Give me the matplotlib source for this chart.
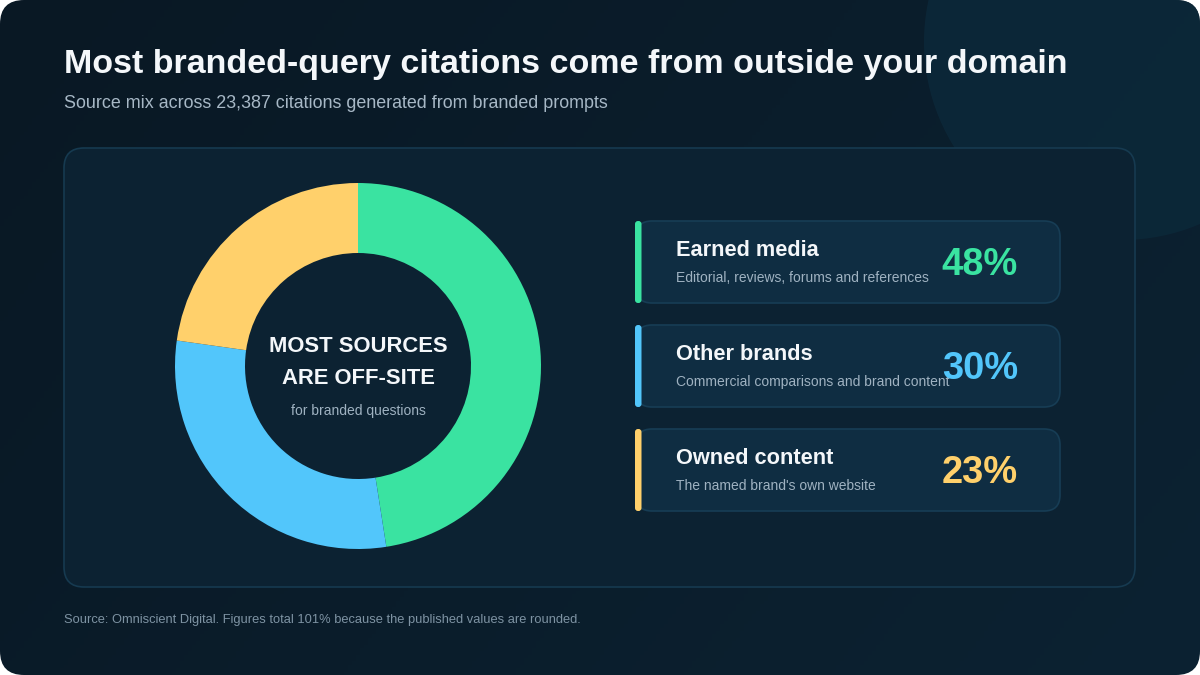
import matplotlib
matplotlib.use("Agg")
import matplotlib.pyplot as plt
import numpy as np
from matplotlib.patches import FancyBboxPatch, Circle

plt.rcParams['font.family'] = ['Liberation Sans', 'DejaVu Sans']

# ---- data ----
categories = ["Earned media", "Other brands", "Owned content"]
descriptions = ["Editorial, reviews, forums and references",
                "Commercial comparisons and brand content",
                "The named brand's own website"]
values = [48, 30, 23]
colors = ["#3AE3A1", "#52C6FB", "#FFD06B"]

title = "Most branded-query citations come from outside your domain"
subtitle = "Source mix across 23,387 citations generated from branded prompts"
footer = "Source: Omniscient Digital. Figures total 101% because the published values are rounded."
center_lines = ["MOST SOURCES", "ARE OFF-SITE"]
center_sub = "for branded questions"

W, H = 1200, 675
fig = plt.figure(figsize=(W / 100, H / 100), dpi=100)
fig.patch.set_facecolor("white")

ax = fig.add_axes([0, 0, 1, 1])
ax.set_xlim(0, W)
ax.set_ylim(H, 0)
ax.axis("off")

def px(v):  # pixel to points
    return v * 0.72

# background rounded card with gradient
bg = FancyBboxPatch((0, 0), W, H, boxstyle="round,pad=0,rounding_size=24",
                    facecolor="none", edgecolor="none", zorder=0)
ax.add_patch(bg)
yy, xx = np.mgrid[0:1:200j, 0:1:300j]
t = (xx * 0.7 + yy * 0.3)
c0 = np.array([0x09, 0x18, 0x24]) / 255
c1 = np.array([0x0C, 0x22, 0x32]) / 255
img = c0[None, None, :] * (1 - t[..., None]) + c1[None, None, :] * t[..., None]
im = ax.imshow(img, extent=[0, W, H, 0], aspect="auto", zorder=0.5)
im.set_clip_path(bg)

# decorative circle top right
deco = Circle((1122, 42), 198, facecolor="#0C2839", edgecolor="none", zorder=1, alpha=0.9)
ax.add_patch(deco)
deco.set_clip_path(bg)

# panel
panel = FancyBboxPatch((64, 148), 1071, 439, boxstyle="round,pad=0,rounding_size=20",
                       facecolor="#0C2232", edgecolor="#163A50", linewidth=1.2, zorder=2)
ax.add_patch(panel)

# titles
ax.text(64, 64, title, fontsize=px(34), fontweight="bold", color="#F4F7FA",
        va="center", ha="left", zorder=5)
ax.text(64, 103, subtitle, fontsize=px(17.9), color="#A7B8C6",
        va="center", ha="left", zorder=5)
ax.text(64, 620, footer, fontsize=px(12.9), color="#7E93A3",
        va="center", ha="left", zorder=5)

# cards
card_x, card_w, card_h = 636, 424, 82
card_ys = [221, 325, 429]
for cat, desc, val, col, cy in zip(categories, descriptions, values, colors, card_ys):
    card = FancyBboxPatch((card_x, cy), card_w, card_h,
                          boxstyle="round,pad=0,rounding_size=16",
                          facecolor="#0F2D42", edgecolor="#173D55", linewidth=1.2, zorder=3)
    ax.add_patch(card)
    bar = FancyBboxPatch((635, cy), 6.5, card_h, boxstyle="round,pad=0,rounding_size=3",
                         facecolor=col, edgecolor="none", zorder=4)
    ax.add_patch(bar)
    ax.text(676, cy + 30, cat, fontsize=px(21.8), fontweight="bold", color="#F4F7FA",
            va="center", ha="left", zorder=5)
    ax.text(676, cy + 57, desc, fontsize=px(13.9), color="#9FB2C1",
            va="center", ha="left", zorder=5)
    ax.text(1018, cy + 44, f"{val}%", fontsize=px(38), fontweight="bold", color=col,
            va="center", ha="right", zorder=6)

# donut
cx, cyc, R = 358, 366, 183
half = 192
pax = fig.add_axes([(cx - half) / W, (H - cyc - half) / H, 2 * half / W, 2 * half / H])
pax.pie(values, colors=colors, radius=R, startangle=90, counterclock=False,
        wedgeprops=dict(width=R - 113, edgecolor="none", linewidth=0))
pax.set_xlim(-half, half)
pax.set_ylim(-half, half)
pax.set_aspect("equal")
pax.axis("off")

ax.text(cx, 346, center_lines[0], fontsize=px(22), fontweight="bold", color="#F4F7FA",
        ha="center", va="center", zorder=6)
ax.text(cx, 379, center_lines[1], fontsize=px(22), fontweight="bold", color="#F4F7FA",
        ha="center", va="center", zorder=6)
ax.text(cx, 411, center_sub, fontsize=px(13.9), color="#9FB2C1",
        ha="center", va="center", zorder=6)

fig.savefig("out.png", dpi=100, facecolor=fig.get_facecolor())
